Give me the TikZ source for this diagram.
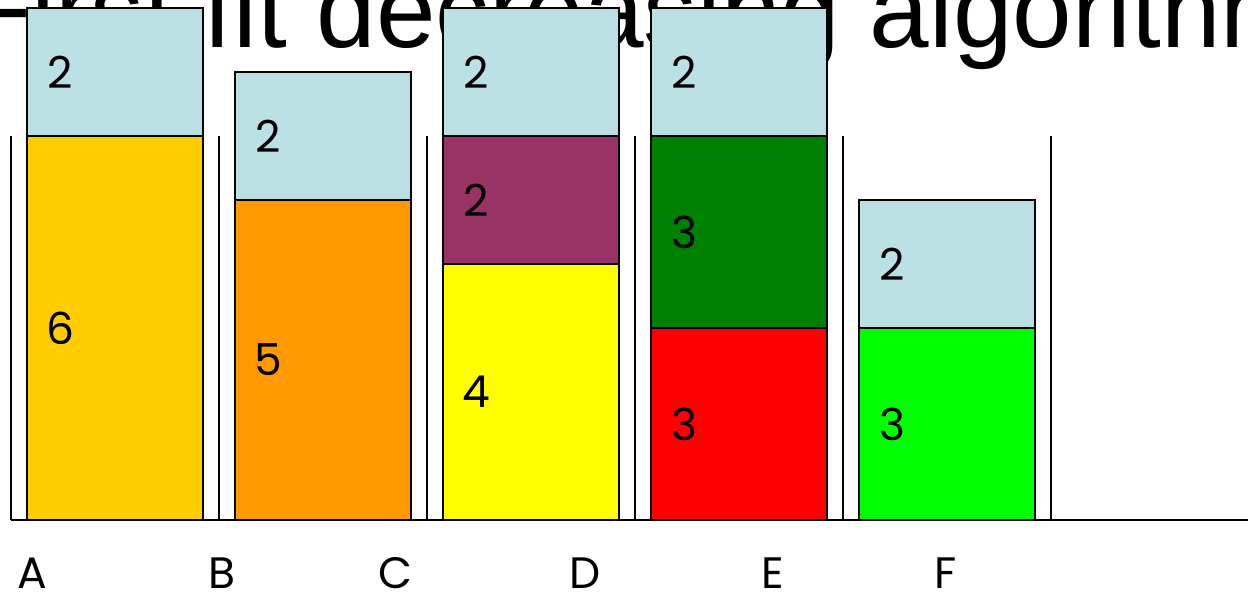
\documentclass[tikz,border=0pt]{standalone}
\usepackage{fontspec}
\setmainfont{Liberation Sans}
\newfontfamily\labfont{Poppins}
\definecolor{cblue}{HTML}{BBE0E3}
\definecolor{cgold}{HTML}{FFCC00}
\definecolor{corange}{HTML}{FF9900}
\definecolor{cyellow}{HTML}{FFFF00}
\definecolor{cpurple}{HTML}{993366}
\definecolor{cdgreen}{HTML}{008000}
\definecolor{cred}{HTML}{FF0000}
\definecolor{clime}{HTML}{00FF00}
\begin{document}
\begin{tikzpicture}[x=1pt,y=-1pt,
  itembox/.style={draw=black, line width=2.5pt, minimum width=176pt, inner sep=0pt, outer sep=0pt},
  num/.style={font=\labfont\fontsize{44}{44}\selectfont, inner sep=0pt, anchor=center},
  binlab/.style={font=\labfont\fontsize{44}{44}\selectfont, inner sep=0pt, anchor=center},
  wall/.style={line width=2.5pt}]
\useasboundingbox (0,0) rectangle (1248,596);
\node[anchor=base west, inner sep=0pt, font=\fontsize{107}{107}\selectfont] (title) at (-34,48) {First fit decreasing algorithm};
% walls
\foreach \x/\n in {11/w1,219/w2,427/w3,635/w4,843/w5,1051/w6}{
  \coordinate (\n t) at (\x,136);
  \coordinate (\n b) at (\x,520);
  \draw[wall] (\n t) -- (\n b);
}
\coordinate (floorL) at (11,520);
\coordinate (floorR) at (1250,520);
\draw[wall] (floorL) -- (floorR);
% bin 1
\node[itembox, fill=cblue, minimum height=128pt] (a1) at (115,72) {};
\node[itembox, fill=cgold, minimum height=384pt] (a2) at (115,328) {};
% bin 2
\node[itembox, fill=cblue, minimum height=128pt] (b1) at (323,136) {};
\node[itembox, fill=corange, minimum height=320pt] (b2) at (323,360) {};
% bin 3
\node[itembox, fill=cblue, minimum height=128pt] (c1) at (531,72) {};
\node[itembox, fill=cpurple, minimum height=128pt] (c2) at (531,200) {};
\node[itembox, fill=cyellow, minimum height=256pt] (c3) at (531,392) {};
% bin 4
\node[itembox, fill=cblue, minimum height=128pt] (d1) at (739,72) {};
\node[itembox, fill=cdgreen, minimum height=192pt] (d2) at (739,232) {};
\node[itembox, fill=cred, minimum height=192pt] (d3) at (739,424) {};
% bin 5
\node[itembox, fill=cblue, minimum height=128pt] (e1) at (947,264) {};
\node[itembox, fill=clime, minimum height=192pt] (e2) at (947,424) {};
% numbers
\foreach \b/\t in {a1/2,a2/6,b1/2,b2/5,c1/2,c2/2,c3/4,d1/2,d2/3,d3/3,e1/2,e2/3}{
  \node[num] (n\b) at ([xshift=33pt]\b.west) {\t};
}
% bin letters
\node[binlab] (lA) at (32,573) {A};
\node[binlab] (lB) at (222,573) {B};
\node[binlab] (lC) at (395,573) {C};
\node[binlab] (lD) at (585,573) {D};
\node[binlab] (lE) at (773,573) {E};
\node[binlab] (lF) at (946,573) {F};
\end{tikzpicture}
\end{document}
